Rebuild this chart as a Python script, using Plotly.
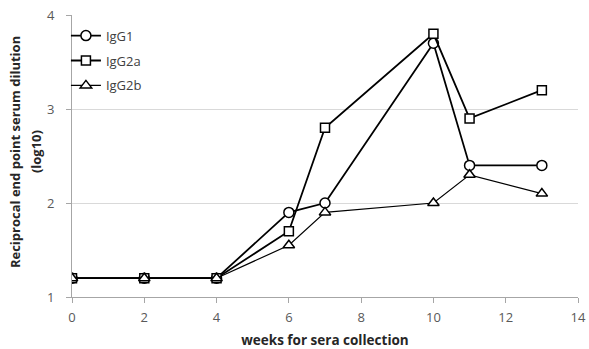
import plotly.graph_objects as go

weeks = [0, 2, 4, 6, 7, 10, 11, 13]
igg1 = [1.2, 1.2, 1.2, 1.9, 2.0, 3.7, 2.4, 2.4]
igg2a = [1.2, 1.2, 1.2, 1.7, 2.8, 3.8, 2.9, 3.2]
igg2b = [1.2, 1.2, 1.2, 1.55, 1.9, 2.0, 2.3, 2.1]

FONT = "Open Sans"

fig = go.Figure()
fig.add_trace(go.Scatter(x=weeks, y=igg1, name="IgG1", mode="lines+markers", legendgroup="a",
                         line=dict(color="black", width=1.8),
                         marker=dict(symbol="circle", size=10, color="white",
                                     line=dict(color="black", width=1.5))))
fig.add_trace(go.Scatter(x=weeks, y=igg2a, name="IgG2a", mode="lines+markers", legendgroup="b",
                         line=dict(color="black", width=1.8),
                         marker=dict(symbol="square", size=9, color="white",
                                     line=dict(color="black", width=1.5))))
fig.add_trace(go.Scatter(x=weeks, y=igg2b, name="IgG2b", mode="lines+markers", legendgroup="c",
                         line=dict(color="black", width=1.2),
                         marker=dict(symbol="triangle-up", size=10, color="white",
                                     line=dict(color="black", width=1.5))))

title_style = dict(family=FONT, size=13, color="#262626")
fig.add_annotation(text="<b>Reciprocal end point serum dilution</b>", textangle=-90,
                   xref="paper", yref="paper", x=-0.1126, y=0.514,
                   xanchor="center", yanchor="middle", showarrow=False, font=title_style)
fig.add_annotation(text="<b>(log10)</b>", textangle=-90,
                   xref="paper", yref="paper", x=-0.0711, y=0.514,
                   xanchor="center", yanchor="middle", showarrow=False, font=title_style)

fig.update_layout(
    width=589, height=349,
    margin=dict(l=72, r=11, t=15, b=52, autoexpand=False),
    paper_bgcolor="white", plot_bgcolor="white",
    font=dict(family=FONT, color="#595959", size=13),
    legend=dict(x=-0.012, y=0.98, xanchor="left", yanchor="top",
                bgcolor="rgba(0,0,0,0)", itemwidth=30, traceorder="grouped",
                font=dict(size=13, color="#404040"), tracegroupgap=5),
    xaxis=dict(range=[0, 14], dtick=2, showgrid=False, showline=True, automargin=False,
               linecolor="#a6a6a6", linewidth=1, ticks="outside",
               tickcolor="#a6a6a6", ticklen=5, zeroline=False, ticklabelstandoff=3,
               title=dict(text="<b>weeks for sera collection</b>",
                          font=dict(size=13.5, color="#262626"))),
    yaxis=dict(range=[1, 4], dtick=1, showgrid=True, gridcolor="#d9d9d9", automargin=False,
               showline=True, linecolor="#a6a6a6", linewidth=1, ticks="outside",
               tickcolor="#a6a6a6", ticklen=5, zeroline=False, ticklabelstandoff=9),
)

fig.write_html("out.html", config={"displayModeBar": False},
               post_script="document.body.style.margin='0';document.body.style.overflow='hidden';")
